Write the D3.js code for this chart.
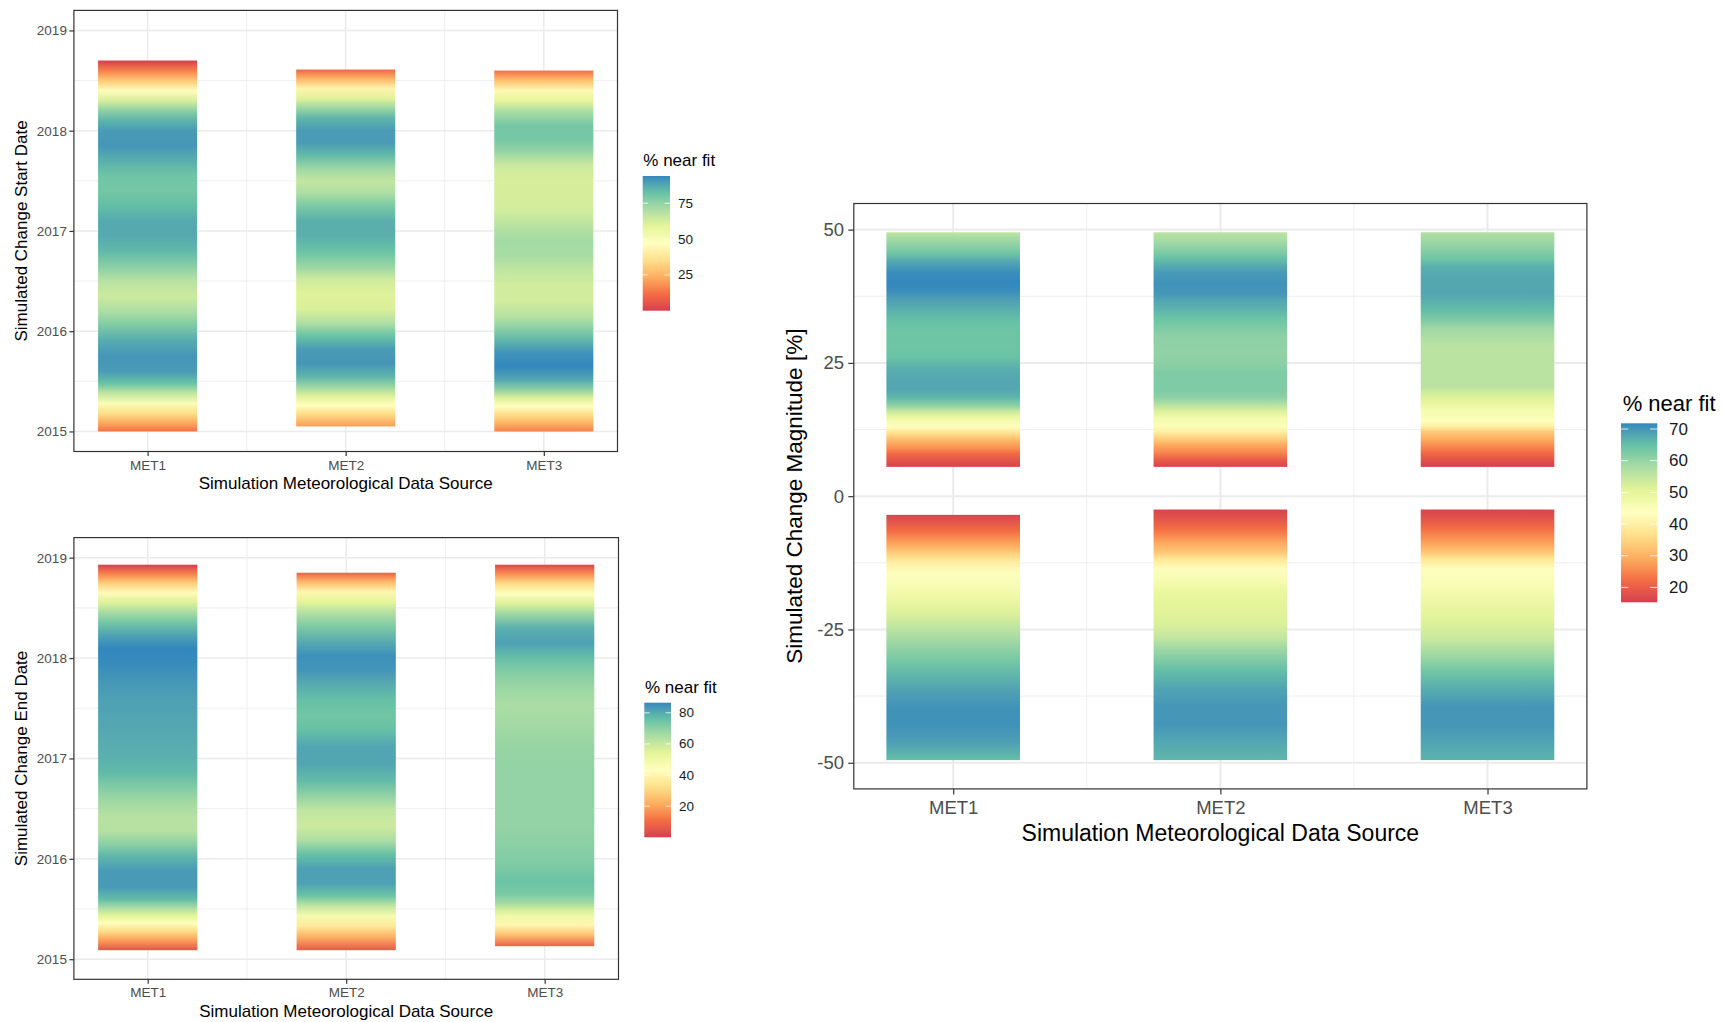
<!DOCTYPE html>
<html>
<head>
<meta charset="utf-8">
<script src="https://cdn.jsdelivr.net/npm/d3@7"></script>
<style>
	body { margin: 0; background: white; }
	svg text { font-family: 'Liberation Sans', Arial, sans-serif; }
</style>
</head>
<body>
<div id="chart"></div>
<script>
let sources = ['MET1', 'MET2', 'MET3'];

let yearTicks = [2015, 2016, 2017, 2018, 2019];
let magnitudeTicks = [-50, -25, 0, 25, 50];

let startLegendTicks = [25, 50, 75];
let endLegendTicks = [20, 40, 60, 80];
let magnitudeLegendTicks = [20, 30, 40, 50, 60, 70];

let startMet1 = [[2018.70, 0], [2018.60, 15], [2018.50, 30], [2018.40, 46], [2018.30, 62], [2018.20, 76], [2018.10, 85], [2018.00, 90], [2017.85, 91], [2017.70, 86], [2017.55, 81], [2017.40, 80], [2017.25, 83], [2017.10, 87], [2016.95, 87], [2016.80, 84], [2016.65, 77], [2016.50, 68], [2016.35, 64], [2016.20, 70], [2016.05, 79], [2015.90, 87], [2015.75, 91], [2015.60, 90], [2015.48, 82], [2015.38, 66], [2015.28, 50], [2015.18, 35], [2015.08, 22], [2015.00, 12]];
let startMet2 = [[2018.61, 10], [2018.52, 25], [2018.42, 43], [2018.32, 60], [2018.22, 74], [2018.12, 85], [2018.00, 90], [2017.88, 90], [2017.76, 84], [2017.62, 73], [2017.50, 66], [2017.38, 70], [2017.25, 79], [2017.10, 86], [2016.95, 86], [2016.80, 82], [2016.65, 74], [2016.52, 64], [2016.38, 60], [2016.22, 61], [2016.08, 70], [2015.95, 82], [2015.82, 90], [2015.68, 91], [2015.55, 85], [2015.45, 74], [2015.35, 60], [2015.26, 47], [2015.17, 34], [2015.05, 20]];
let startMet3 = [[2018.60, 12], [2018.50, 28], [2018.40, 44], [2018.30, 58], [2018.20, 70], [2018.05, 80], [2017.92, 80], [2017.80, 75], [2017.65, 64], [2017.50, 62], [2017.35, 62], [2017.20, 63], [2017.05, 68], [2016.90, 72], [2016.75, 71], [2016.60, 66], [2016.45, 63], [2016.30, 63], [2016.15, 68], [2016.02, 77], [2015.90, 85], [2015.78, 92], [2015.65, 94], [2015.52, 88], [2015.42, 76], [2015.33, 60], [2015.25, 47], [2015.16, 34], [2015.08, 24], [2015.00, 15]];

let endMet1 = [[2018.93, 0], [2018.84, 14], [2018.75, 28], [2018.65, 42], [2018.55, 56], [2018.45, 66], [2018.35, 74], [2018.22, 82], [2018.10, 86.5], [2017.95, 86], [2017.80, 84], [2017.60, 82], [2017.40, 81], [2017.20, 80], [2017.00, 79], [2016.85, 77], [2016.72, 72], [2016.58, 67], [2016.42, 63], [2016.28, 63], [2016.15, 70], [2016.02, 78], [2015.88, 83], [2015.72, 83], [2015.60, 77], [2015.51, 65], [2015.43, 54], [2015.36, 44], [2015.28, 32], [2015.19, 19], [2015.09, 5]];
let endMet2 = [[2018.85, 8], [2018.76, 24], [2018.66, 40], [2018.56, 54], [2018.46, 63], [2018.32, 72], [2018.16, 80], [2018.02, 85], [2017.88, 84], [2017.74, 80], [2017.58, 76], [2017.42, 74], [2017.28, 76], [2017.12, 81], [2016.95, 81], [2016.78, 77], [2016.62, 69], [2016.48, 61], [2016.32, 59], [2016.18, 65], [2016.04, 76], [2015.90, 82], [2015.76, 82], [2015.63, 75], [2015.53, 61], [2015.43, 48], [2015.33, 36], [2015.22, 22], [2015.09, 6]];
let endMet3 = [[2018.93, 2], [2018.84, 16], [2018.74, 32], [2018.64, 44], [2018.54, 56], [2018.43, 68], [2018.30, 79], [2018.15, 82], [2018.02, 77], [2017.88, 72], [2017.72, 68], [2017.55, 65], [2017.35, 66], [2017.15, 68], [2016.90, 69], [2016.60, 69], [2016.35, 69], [2016.15, 70], [2015.95, 72], [2015.78, 75], [2015.65, 73], [2015.56, 66], [2015.49, 57], [2015.42, 49], [2015.34, 40], [2015.25, 27], [2015.13, 8]];

let magUpper1 = [[49.5, 55], [48.5, 58], [47, 61], [45.5, 64], [44, 68], [42, 71], [40, 71.8], [38.5, 71], [37, 69], [35, 67], [33, 65], [31, 64], [28, 64], [26, 64.5], [24, 67], [22, 68], [20, 68], [18.5, 66], [17, 61], [16, 55], [15, 50], [14, 46], [13, 43], [12, 38], [11, 33], [10, 29], [9, 26], [8, 22], [7, 19], [5.5, 16]];
let magUpper2 = [[49.5, 56], [48, 58], [46.5, 61], [45, 64], [43.5, 67], [42, 69.5], [40, 70.5], [38, 70], [36.5, 68], [35, 66.5], [33.5, 64.5], [32, 63], [30, 61], [27, 60.5], [25, 61], [23, 62.5], [20, 62.5], [18.5, 61], [17.3, 57], [16, 52], [14.7, 47], [13.2, 45], [12.1, 40], [10.8, 34], [9.6, 29], [8.2, 25], [6.9, 20], [5.5, 16]];
let magUpper3 = [[49.5, 57], [48, 59], [46.5, 61], [44.5, 64], [43, 67], [41, 68], [38, 68], [36.6, 67], [34.7, 65], [32.8, 62], [31.5, 59], [29.6, 57.5], [28, 56], [24, 56], [20.5, 56], [19.3, 53], [18, 51], [16, 46.5], [14.1, 44.5], [13.1, 40], [12.1, 33.5], [10.8, 29.5], [9.6, 26], [8.2, 22], [6.9, 18.5], [5.5, 15.3]];
let magLower1 = [[-3.5, 16], [-5, 19], [-6.5, 22], [-8, 26], [-9.5, 30], [-11, 35], [-12.5, 40], [-14.5, 44], [-17, 46], [-19.5, 49], [-22, 52], [-25, 56], [-28, 60], [-31, 63.5], [-34, 66.5], [-37, 69], [-40, 70.5], [-43, 70.5], [-46, 69], [-48, 67], [-49.5, 65]];
let magLower2 = [[-2.5, 16], [-4.5, 19], [-6, 22], [-7.3, 25], [-8.6, 28.5], [-10.5, 33], [-11.8, 38], [-13.7, 44], [-15.6, 46], [-18, 49.5], [-21, 51], [-24, 52], [-26.6, 55], [-28.6, 59], [-30.5, 62], [-33, 65.5], [-36.3, 68.5], [-39.5, 70], [-42.8, 70], [-45.3, 68.5], [-47.9, 67], [-49.5, 66]];
let magLower3 = [[-2.5, 16], [-4.5, 19], [-6, 22], [-7.3, 25], [-9.2, 29], [-10.5, 33], [-11.8, 38], [-13.7, 44], [-15.5, 45], [-17, 45.5], [-20.2, 49], [-23.4, 51.5], [-26.6, 54], [-29.9, 59], [-33.1, 64], [-36.3, 67.5], [-39.5, 70], [-42.8, 70], [-46, 68.5], [-49.5, 66.5]];

let spectral = ['#D53E4F', '#F46D43', '#FDAE61', '#FEE08B', '#FFFFBF', '#E6F598', '#ABDDA4', '#66C2A5', '#3288BD'];

let gradId = 0;

function makeColor(lo, hi) {
	let n = spectral.length - 1;
	return d3.scaleLinear()
		.domain(d3.range(n + 1).map(i => lo + (hi - lo) * i / n))
		.range(spectral)
		.interpolate(d3.interpolateLab);
}

function verticalGradient(defs, stops) {
	let id = 'g' + (gradId++);
	let grad = defs.append('linearGradient')
		.attr('id', id)
		.attr('x1', 0).attr('y1', 0)
		.attr('x2', 0).attr('y2', 1);
	grad.selectAll('stop')
		.data(stops)
		.join('stop')
		.attr('offset', d => d.offset)
		.attr('stop-color', d => d.color);
	return 'url(#' + id + ')';
}

function drawLegend(svg, defs, color, lg) {
	let dom = color.domain();
	let lo = dom[0], hi = dom[dom.length - 1];
	let ly = d3.scaleLinear().domain([lo, hi]).range([lg.y + lg.h, lg.y]);

	let stops = d3.range(0, 1.0001, 0.02).map(t => ({
		offset: t,
		color: color(hi - t * (hi - lo))
	}));

	svg.append('text')
		.attr('x', lg.titleX)
		.attr('y', lg.titleY)
		.attr('dominant-baseline', 'central')
		.style('font-size', lg.titleSize + 'px')
		.style('fill', '#000')
		.text('% near fit');

	svg.append('rect')
		.attr('x', lg.x)
		.attr('y', lg.y)
		.attr('width', lg.w)
		.attr('height', lg.h)
		.attr('fill', verticalGradient(defs, stops));

	let tickLen = lg.w / 5;
	let g = svg.append('g');
	lg.ticks.forEach(t => {
		g.append('line')
			.attr('x1', lg.x).attr('x2', lg.x + tickLen)
			.attr('y1', ly(t)).attr('y2', ly(t))
			.style('stroke', 'white').style('stroke-width', 1).style('opacity', 0.8);
		g.append('line')
			.attr('x1', lg.x + lg.w - tickLen).attr('x2', lg.x + lg.w)
			.attr('y1', ly(t)).attr('y2', ly(t))
			.style('stroke', 'white').style('stroke-width', 1).style('opacity', 0.8);
		g.append('text')
			.attr('x', lg.labelX)
			.attr('y', ly(t))
			.attr('dominant-baseline', 'central')
			.style('font-size', lg.labelSize + 'px')
			.style('fill', '#1a1a1a')
			.text(t);
	});
}

function drawPanel(svg, defs, p) {
	let x = d3.scalePoint().domain(sources).range([p.left, p.right]).padding(0.372);
	let y = d3.scaleLinear().domain(p.yDomain).range([p.bottom, p.top]);

	let allValues = p.bars.flatMap(b => b.profile.map(d => d[1]));
	let color = makeColor(d3.min(allValues), d3.max(allValues));
	let bw = x.step() * 0.5;

	// grid
	let minorY = d3.pairs(p.yTicks).map(([a, b]) => (a + b) / 2);
	let minorX = d3.pairs(sources).map(([a, b]) => (x(a) + x(b)) / 2);
	let grid = svg.append('g');
	minorY.forEach(v => grid.append('line')
		.attr('x1', p.left).attr('x2', p.right).attr('y1', y(v)).attr('y2', y(v))
		.style('stroke', '#EBEBEB').style('stroke-width', 0.8));
	minorX.forEach(v => grid.append('line')
		.attr('x1', v).attr('x2', v).attr('y1', p.top).attr('y2', p.bottom)
		.style('stroke', '#EBEBEB').style('stroke-width', 0.8));
	p.yTicks.forEach(v => grid.append('line')
		.attr('x1', p.left).attr('x2', p.right).attr('y1', y(v)).attr('y2', y(v))
		.style('stroke', '#EBEBEB').style('stroke-width', p.gridW));
	sources.forEach(s => grid.append('line')
		.attr('x1', x(s)).attr('x2', x(s)).attr('y1', p.top).attr('y2', p.bottom)
		.style('stroke', '#EBEBEB').style('stroke-width', p.gridW));

	// bars built from the profiles
	p.bars.forEach(b => {
		let top = b.profile[0][0];
		let bottom = b.profile[b.profile.length - 1][0];
		let stops = b.profile.map(d => ({
			offset: (top - d[0]) / (top - bottom),
			color: color(d[1])
		}));
		svg.append('rect')
			.attr('x', x(b.source) - bw / 2)
			.attr('y', y(top))
			.attr('width', bw)
			.attr('height', y(bottom) - y(top))
			.attr('fill', verticalGradient(defs, stops));
	});

	svg.append('rect')
		.attr('x', p.left)
		.attr('y', p.top)
		.attr('width', p.right - p.left)
		.attr('height', p.bottom - p.top)
		.style('fill', 'none')
		.style('stroke', '#333333')
		.style('stroke-width', 1.2);

	let yAxis = svg.append('g')
		.attr('transform', 'translate(' + p.left + ',0)')
		.call(d3.axisLeft(y).tickValues(p.yTicks).tickSize(p.tick).tickPadding(p.yPad).tickFormat(d => String(d)));
	let xAxis = svg.append('g')
		.attr('transform', 'translate(0,' + p.bottom + ')')
		.call(d3.axisBottom(x).tickSize(p.tick).tickPadding(p.xPad));

	[yAxis, xAxis].forEach(g => {
		g.select('.domain').remove();
		g.attr('font-family', null);
		g.selectAll('line').style('stroke', '#333333').style('stroke-width', 1.2);
		g.selectAll('text')
			.style('font-size', p.tickSize + 'px')
			.style('fill', '#4D4D4D');
	});

	svg.append('text')
		.attr('x', (p.left + p.right) / 2)
		.attr('y', p.xTitleY)
		.attr('text-anchor', 'middle')
		.attr('dominant-baseline', 'central')
		.style('font-size', p.titleSize + 'px')
		.style('fill', '#000')
		.text('Simulation Meteorological Data Source');

	svg.append('text')
		.attr('transform', 'translate(' + p.yTitleX + ',' + (p.top + p.bottom) / 2 + ') rotate(-90)')
		.attr('text-anchor', 'middle')
		.attr('dominant-baseline', 'central')
		.style('font-size', p.yTitleSize + 'px')
		.style('fill', '#000')
		.text(p.yTitle);

	drawLegend(svg, defs, color, p.legend);
}

let svg = d3.select('#chart')
	.append('svg')
	.attr('width', 1724)
	.attr('height', 1022)
	.style('background', 'white');

let defs = svg.append('defs');

drawPanel(svg, defs, {
	left: 73.9, right: 617.5, top: 10.4, bottom: 451.5,
	yDomain: [2014.8, 2019.2], yTicks: yearTicks,
	bars: sources.map((s, i) => ({ source: s, profile: [startMet1, startMet2, startMet3][i] })),
	tick: 4.5, yPad: 2.5, xPad: 4.2, tickSize: 13.5, gridW: 1.5,
	titleSize: 17, yTitleSize: 17, xTitleY: 483.3, yTitleX: 21.7,
	yTitle: 'Simulated Change Start Date',
	legend: { x: 642.7, y: 176, w: 27.3, h: 134.7, ticks: startLegendTicks,
		titleX: 643.3, titleY: 160.7, titleSize: 17, labelX: 678, labelSize: 13.5 }
});

drawPanel(svg, defs, {
	left: 73.9, right: 618.5, top: 537.6, bottom: 979.3,
	yDomain: [2014.8, 2019.2], yTicks: yearTicks,
	bars: sources.map((s, i) => ({ source: s, profile: [endMet1, endMet2, endMet3][i] })),
	tick: 4.5, yPad: 2.5, xPad: 4.1, tickSize: 13.5, gridW: 1.5,
	titleSize: 17, yTitleSize: 17, xTitleY: 1011.7, yTitleX: 21.7,
	yTitle: 'Simulated Change End Date',
	legend: { x: 644.3, y: 702.7, w: 26.7, h: 134.6, ticks: endLegendTicks,
		titleX: 645, titleY: 687.7, titleSize: 17, labelX: 679, labelSize: 13.5 }
});

drawPanel(svg, defs, {
	left: 853.8, right: 1586.9, top: 203.5, bottom: 788.9,
	yDomain: [-54.9, 54.9], yTicks: magnitudeTicks,
	bars: sources.map((s, i) => ({ source: s, profile: [magUpper1, magUpper2, magUpper3][i] }))
		.concat(sources.map((s, i) => ({ source: s, profile: [magLower1, magLower2, magLower3][i] }))),
	tick: 5.5, yPad: 4.3, xPad: 6.8, tickSize: 18.5, gridW: 2,
	titleSize: 23, yTitleSize: 22.5, xTitleY: 832.7, yTitleX: 794.6,
	yTitle: 'Simulated Change Magnitude [%]',
	legend: { x: 1621, y: 423.3, w: 36.3, h: 179, ticks: magnitudeLegendTicks,
		titleX: 1622.7, titleY: 403.3, titleSize: 22, labelX: 1669, labelSize: 17 }
});
</script>
</body>
</html>
